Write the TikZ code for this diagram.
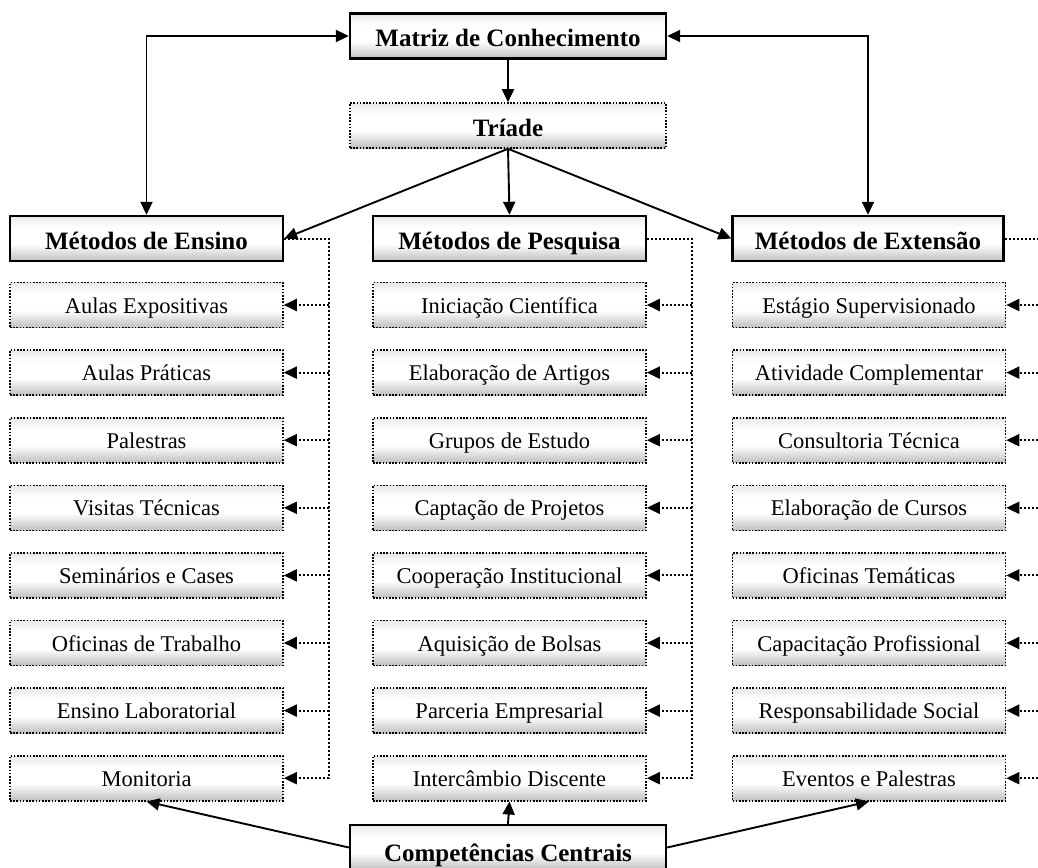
\documentclass[tikz,border=0pt]{standalone}
\usepackage{fontspec}
\setmainfont{Liberation Serif}
\usetikzlibrary{arrows.meta}
\pgfdeclareverticalshading{boxshade}{100bp}{color(0bp)=(gray!50); color(25bp)=(gray!50); color(44bp)=(white); color(62bp)=(white); color(75bp)=(gray!18); color(100bp)=(gray!18)}
\begin{document}
\begin{tikzpicture}[x=1pt,y=-1pt,
  shadebox/.style={shading=boxshade, minimum height=45pt, inner sep=0pt},
  boldtext/.style={font=\fontsize{25}{30}\selectfont\bfseries, text height=21.5pt, text depth=0.5pt},
  mainbox/.style={shadebox, draw, line width=2.4pt, minimum width=273pt, boldtext},
  itembox/.style={shadebox, draw, line width=1.6pt, dash pattern=on 1.6pt off 1.6pt, minimum width=273pt, font=\fontsize{22.5}{27}\selectfont, text height=18pt, text depth=2pt},
  tip/.style={-{Triangle[length=13pt,width=12pt]}},
  solidline/.style={line width=1.9pt},
  dotline/.style={line width=2pt, dash pattern=on 2pt off 2pt}
]
\useasboundingbox (0,0) rectangle (1038,867);
\clip (0,0) rectangle (1038,867);

\node[mainbox, minimum width=316pt] (matriz) at (508,36) {Matriz de Conhecimento};
\node[itembox, minimum width=316pt, boldtext] (triade) at (508,125.5) {Tríade};
\node[mainbox] (ens) at (146.5,238.5) {Métodos de Ensino};
\node[mainbox] (pes) at (509.5,238.5) {Métodos de Pesquisa};
\node[mainbox, minimum width=271pt] (ext) at (868,238.5) {Métodos de Extensão};

\foreach \i/\t in {1/Aulas Expositivas, 2/Aulas Práticas, 3/Palestras, 4/Visitas Técnicas, 5/Seminários e Cases, 6/Oficinas de Trabalho, 7/Ensino Laboratorial, 8/Monitoria}
  \node[itembox] (e\i) at (146.5,{305+67.6*(\i-1)}) {\t};
\foreach \i/\t in {1/Iniciação Científica, 2/Elaboração de Artigos, 3/Grupos de Estudo, 4/Captação de Projetos, 5/Cooperação Institucional, 6/Aquisição de Bolsas, 7/Parceria Empresarial, 8/Intercâmbio Discente}
  \node[itembox] (p\i) at (509.5,{305+67.6*(\i-1)}) {\t};
\foreach \i/\t in {1/Estágio Supervisionado, 2/Atividade Complementar, 3/Consultoria Técnica, 4/Elaboração de Cursos, 5/Oficinas Temáticas, 6/Capacitação Profissional, 7/Responsabilidade Social, 8/Eventos e Palestras}
  \node[itembox] (x\i) at (869,{305+67.6*(\i-1)}) {\t};

\node[mainbox, minimum width=316pt, text height=27pt, text depth=0pt] (comp) at (508,847.5) {Competências Centrais};

% top connectors
\draw[solidline, {Triangle[length=13pt,width=12pt]}-{Triangle[length=13pt,width=12pt]}] (matriz.west) -| (ens.north);
\draw[solidline, {Triangle[length=13pt,width=12pt]}-{Triangle[length=13pt,width=12pt]}] (matriz.east) -| (ext.north);
\draw[solidline, tip] (matriz.south) -- (triade.north);
\draw[solidline, tip] (triade.south) -- (ens.east);
\draw[solidline, tip] (triade.south) -- (pes.north);
\draw[solidline, tip] (triade.south) -- (ext.west);

% dotted trees
\coordinate (ensv) at ([xshift=45pt]ens.east);
\coordinate (pesv) at ([xshift=45pt]pes.east);
\coordinate (extv) at ([xshift=45pt]ext.east);
\draw[dotline] (ens.east) -| (ensv |- e8.east);
\draw[dotline] (pes.east) -| (pesv |- p8.east);
\draw[dotline] (ext.east) -| (extv |- x8.east);
\foreach \i in {1,...,8} {
  \draw[dotline, tip] (ensv |- e\i.east) -- (e\i.east);
  \draw[dotline, tip] (pesv |- p\i.east) -- (p\i.east);
  \draw[dotline, tip] (extv |- x\i.east) -- (x\i.east);
}

% bottom connectors
\draw[solidline, tip] (comp.west) -- (e8.south);
\draw[solidline, tip] (comp.north) -- (p8.south);
\draw[solidline, tip] (comp.east) -- (x8.south);
\end{tikzpicture}
\end{document}
